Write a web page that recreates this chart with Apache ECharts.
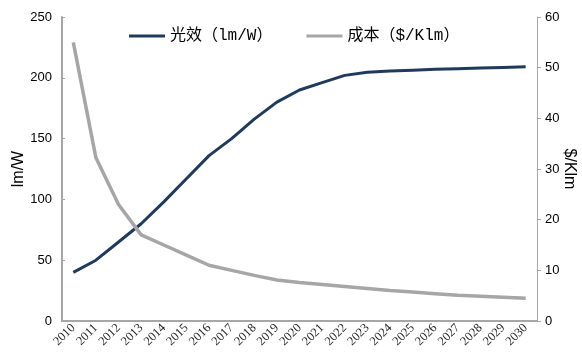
<!DOCTYPE html>
<html><head><meta charset="utf-8">
<script src="https://cdn.jsdelivr.net/npm/echarts@6/dist/echarts.min.js"></script>
<style>html,body{margin:0;padding:0;background:#fff}#c{width:582px;height:358px}</style>
</head><body><div id="c"></div>
<script>
var years = ['2010','2011','2012','2013','2014','2015','2016','2017','2018','2019','2020','2021','2022','2023','2024','2025','2026','2027','2028','2029','2030'];
var efficacy = [40,50,65,80,98,117,136,150,166,180,190,196,202,204.5,205.5,206.3,207,207.5,208,208.5,209];
var cost = [55,32.2,23,17,15,13,11,10,9,8.1,7.6,7.2,6.8,6.4,6.0,5.7,5.4,5.1,4.9,4.7,4.5];
var leftTicks = [0,50,100,150,200,250];
var rightTicks = [0,10,20,30,40,50,60];

var chart = echarts.init(document.getElementById('c'));
chart.setOption({
  animation:false,
  backgroundColor:'#fff',
  grid:{left:62,right:45,top:17,bottom:37,containLabel:false,outerBoundsMode:'none'},
  legend:{
    top:23, left:124, itemGap:34, itemWidth:36, itemHeight:3,
    icon:'rect',
    textStyle:{fontFamily:'Liberation Mono, Noto Sans CJK SC',fontSize:16,color:'#000'},
    data:['光效（lm/W）','成本（$/Klm）']
  },
  xAxis:{
    type:'category', data:years, boundaryGap:true,
    axisLine:{lineStyle:{color:'#a6a6a6',width:2}},
    axisTick:{show:false},
    axisLabel:{rotate:45,interval:0,fontFamily:'Liberation Serif',fontSize:12.5,color:'#222',margin:5}
  },
  yAxis:[{
    type:'value', min:leftTicks[0], max:leftTicks[leftTicks.length-1], interval:50,
    name:'lm/W', nameLocation:'middle', nameGap:35, nameRotate:90, nameMoveOverlap:false,
    nameTextStyle:{fontFamily:'Liberation Sans',fontSize:16,color:'#000'},
    axisLine:{show:true,lineStyle:{color:'#a6a6a6',width:2}},
    axisTick:{show:true,inside:true,length:3,lineStyle:{color:'#a6a6a6'}},
    axisLabel:{fontFamily:'Liberation Sans',fontSize:13,color:'#000',margin:10},
    splitLine:{show:false}
  },{
    type:'value', min:rightTicks[0], max:rightTicks[rightTicks.length-1], interval:10, position:'right',
    name:'$/Klm', nameLocation:'middle', nameGap:24, nameRotate:-90, nameMoveOverlap:false,
    nameTextStyle:{fontFamily:'Liberation Sans',fontSize:16,color:'#000'},
    axisLine:{show:true,lineStyle:{color:'#a6a6a6',width:1}},
    axisTick:{show:true,length:4,lineStyle:{color:'#a6a6a6'}},
    axisLabel:{fontFamily:'Liberation Sans',fontSize:13,color:'#000',margin:8},
    splitLine:{show:false}
  }],
  series:[{
    name:'光效（lm/W）', type:'line', yAxisIndex:0, data:efficacy,
    showSymbol:false, lineStyle:{color:'#203a5c',width:3}, itemStyle:{color:'#203a5c'}
  },{
    name:'成本（$/Klm）', type:'line', yAxisIndex:1, data:cost,
    showSymbol:false, lineStyle:{color:'#a6a6a6',width:3.5}, itemStyle:{color:'#a6a6a6'}
  }]
});
</script></body></html>
